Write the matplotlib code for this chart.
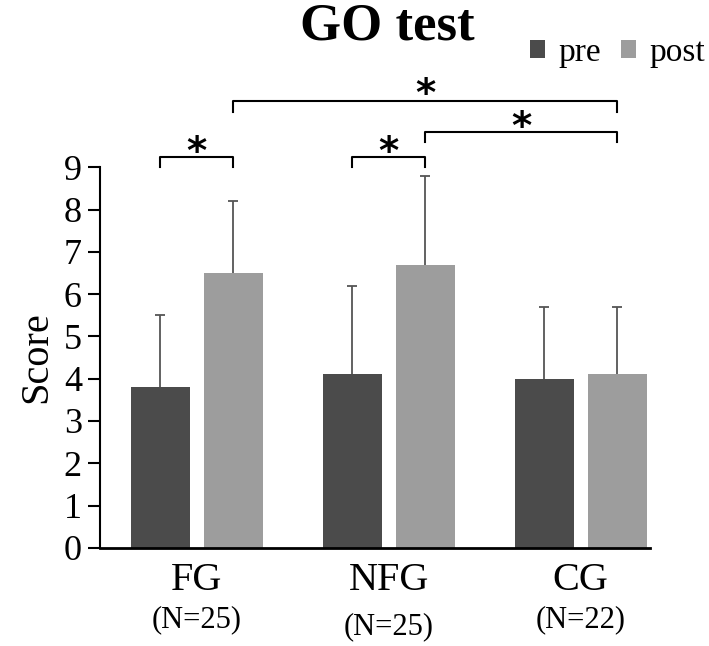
import matplotlib
matplotlib.use("Agg")
import matplotlib.pyplot as plt
import numpy as np

groups = ['FG', 'NFG', 'CG']
n_labels = ['(N=25)', '(N=25)', '(N=22)']
pre = [3.8, 4.1, 4.0]
post = [6.5, 6.7, 4.1]
pre_err = [1.7, 2.1, 1.7]
post_err = [1.7, 2.1, 1.6]

plt.rcParams['font.family'] = ['Liberation Serif', 'DejaVu Serif']

fig = plt.figure(figsize=(7.09, 6.46), dpi=100)
ax = fig.add_axes([0.141, 0.152, 0.776, 0.589])

x = np.arange(len(groups))
off = 0.19
w = 0.307
ax.bar(x - off, pre, w, color='#4b4b4b', label='pre', zorder=2)
ax.bar(x + off, post, w, color='#9d9d9d', label='post', zorder=2)

# upper error bars only
for xs, vals, errs in [(x - off, pre, pre_err), (x + off, post, post_err)]:
    tops = np.array(vals) + np.array(errs)
    ax.vlines(xs, vals, tops, color='#555555', lw=1.3, zorder=1)
    ax.hlines(tops, xs - 0.025, xs + 0.025, color='#555555', lw=1.3, zorder=1)

ax.set_xlim(-0.503, 2.362)
ax.set_ylim(0, 9)
ax.set_yticks(range(10))
ax.tick_params(axis='y', labelsize=26, length=9, width=1.5, direction='out', pad=4)
ax.set_xticks(x)
ax.set_xticklabels(groups, fontsize=29)
ax.tick_params(axis='x', length=0, pad=10)
n_y = [-1.7, -1.87, -1.7]
for i, lab in enumerate(n_labels):
    ax.text(x[i], n_y[i], lab, ha='center', va='center', fontsize=22)
for s in ['top', 'right']:
    ax.spines[s].set_visible(False)
ax.spines['left'].set_linewidth(1.5)
ax.spines['bottom'].set_linewidth(2)
ax.set_ylabel('Score', fontsize=29, labelpad=6)


def bracket(x1, x2, y, h, star_y):
    ax.plot([x1, x1, x2, x2], [y - h, y, y, y - h], color='black', lw=1.5,
            clip_on=False)
    ax.text((x1 + x2) / 2, star_y, '*', ha='center', va='center', fontsize=28,
            fontweight='bold', family='DejaVu Sans')


bracket(x[0] - off, x[0] + off, 9.24, 0.24, 9.35)
bracket(x[1] - off, x[1] + off, 9.24, 0.24, 9.35)
bracket(x[1] + off, x[2] + off, 9.83, 0.24, 9.93)
bracket(x[0] + off, x[2] + off, 10.57, 0.27, 10.7)

fig.text(0.546, 1 - 39 / 646, 'GO test', ha='center', va='baseline',
         fontsize=38, fontweight='bold')
fig.legend(loc='center right', bbox_to_anchor=(0.995, 0.918), ncol=2,
           frameon=False, borderpad=0, borderaxespad=0,
           fontsize=24, handlelength=0.45, handleheight=0.45, handletextpad=0.4,
           columnspacing=0.6)

fig.savefig('out.png', dpi=100)
